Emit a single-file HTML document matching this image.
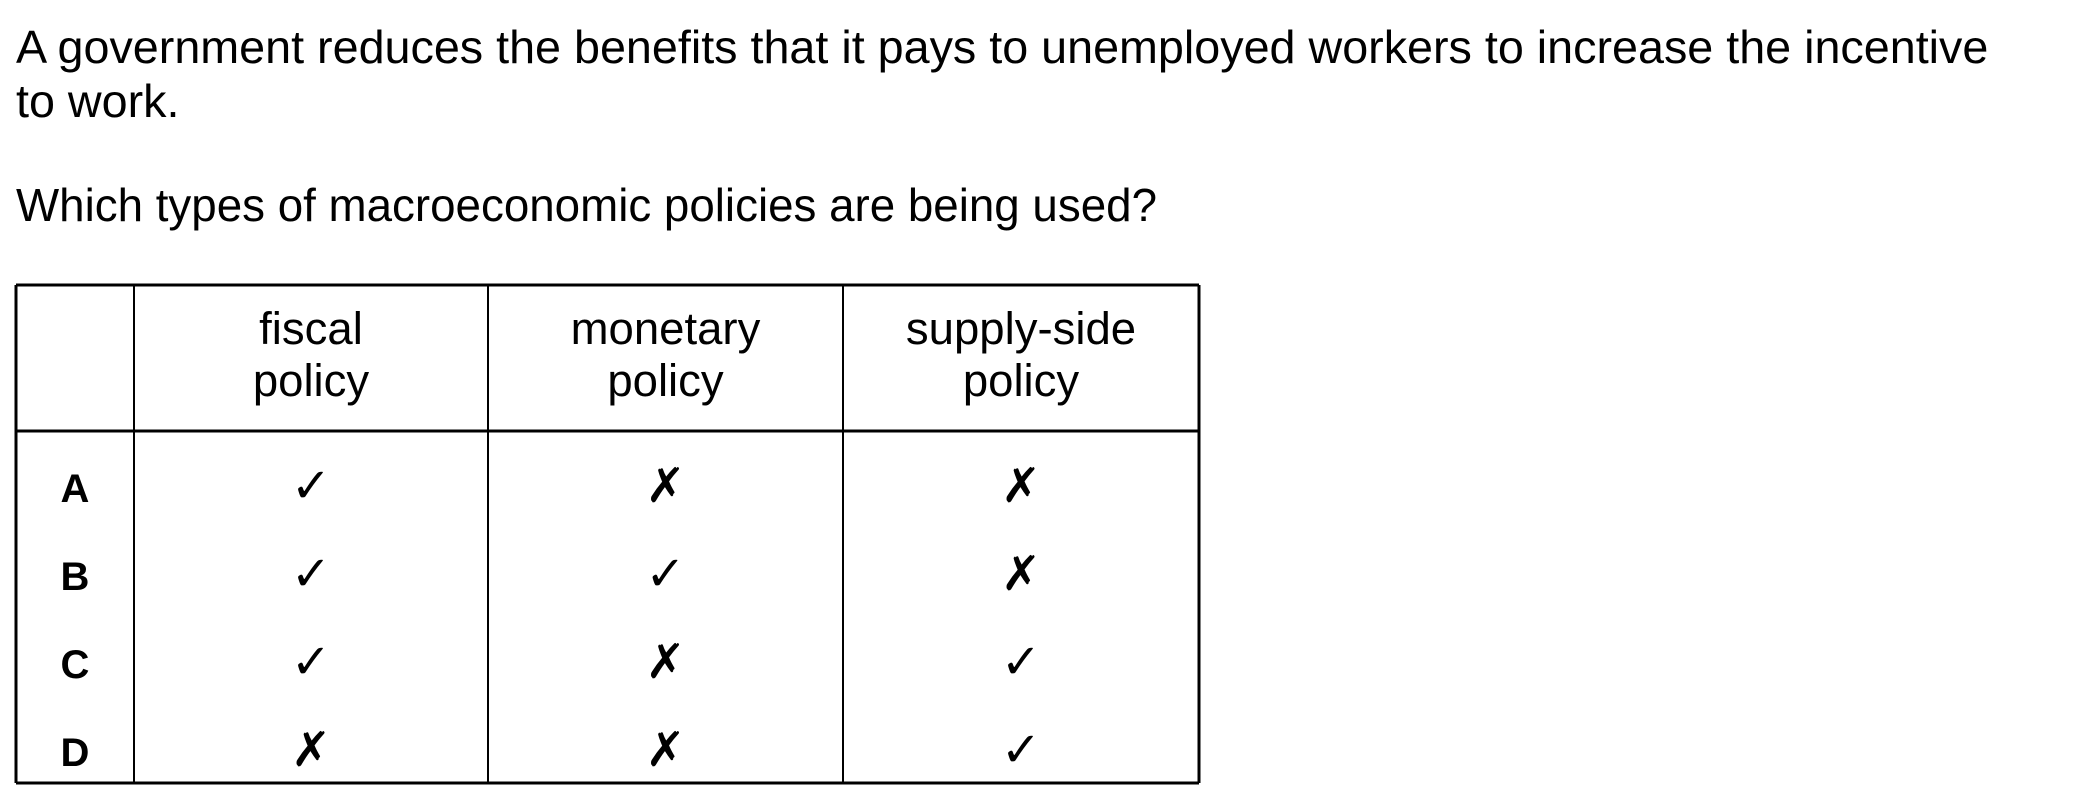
<!DOCTYPE html>
<html><head><meta charset="utf-8"><style>
html,body{margin:0;padding:0;background:#fff;width:2100px;height:808px;overflow:hidden}
svg{display:block}
text{font-family:"Liberation Sans",Arial,sans-serif;fill:#000}
</style></head><body>
<svg width="2100" height="808" viewBox="0 0 2100 808">
<text x="16" y="63" font-size="46.7">A government reduces the benefits that it pays to unemployed workers to increase the incentive</text>
<text x="16" y="117" font-size="46.7">to work.</text>
<text x="16" y="221" font-size="46.7" textLength="1141" lengthAdjust="spacingAndGlyphs">Which types of macroeconomic policies are being used?</text>
<g id="tbl"></g>
</svg>
<script>
const rows = ['A','B','C','D'];
const cols = [['fiscal','policy'],['monetary','policy'],['supply-side','policy']];
const marks = [[1,0,0],[1,1,0],[1,0,1],[0,0,1]];
const NS='http://www.w3.org/2000/svg';
const g=document.getElementById('tbl');
const L=16,R=1199,T=285,H=431,B=783;
const xs=[L,134,488,843,R];
function line(x1,y1,x2,y2,w,name){const l=document.createElementNS(NS,'line');
l.setAttribute('x1',x1);l.setAttribute('y1',y1);l.setAttribute('x2',x2);l.setAttribute('y2',y2);
l.setAttribute('stroke','#000');l.setAttribute('stroke-width',w);


g.appendChild(l);}
function txt(x,y,s,size,name,weight){const t=document.createElementNS(NS,'text');
t.setAttribute('x',x);t.setAttribute('y',y);t.setAttribute('font-size',size);t.setAttribute('text-anchor','middle');
if(weight)t.setAttribute('font-weight',weight);
t.textContent=s;


g.appendChild(t);}
line(L,T,R,T,3,'table-top-border');
line(L,B,R,B,3,'table-bottom-border');
line(L,H,R,H,3,'header-divider');
xs.forEach((x,i)=>line(x,T,x,B,(i==0||i==4)?3:2,'column-divider'));
cols.forEach((c,i)=>{const cx=(xs[i+1]+xs[i+2])/2;
txt(cx,344,c[0],45.5,'column-header');txt(cx,396,c[1],45.5,'column-header');});
const rowY0=502,rowDy=88;
rows.forEach((r,j)=>{const y=rowY0+j*rowDy;
txt((xs[0]+xs[1])/2,y,r,40,'row-label','bold');
marks[j].forEach((m,i)=>{const cx=(xs[i+1]+xs[i+2])/2;
txt(cx,y,m?'\u2713':'\u2717',48,m?'tick-mark':'cross-mark');});});
</script>
</body></html>
